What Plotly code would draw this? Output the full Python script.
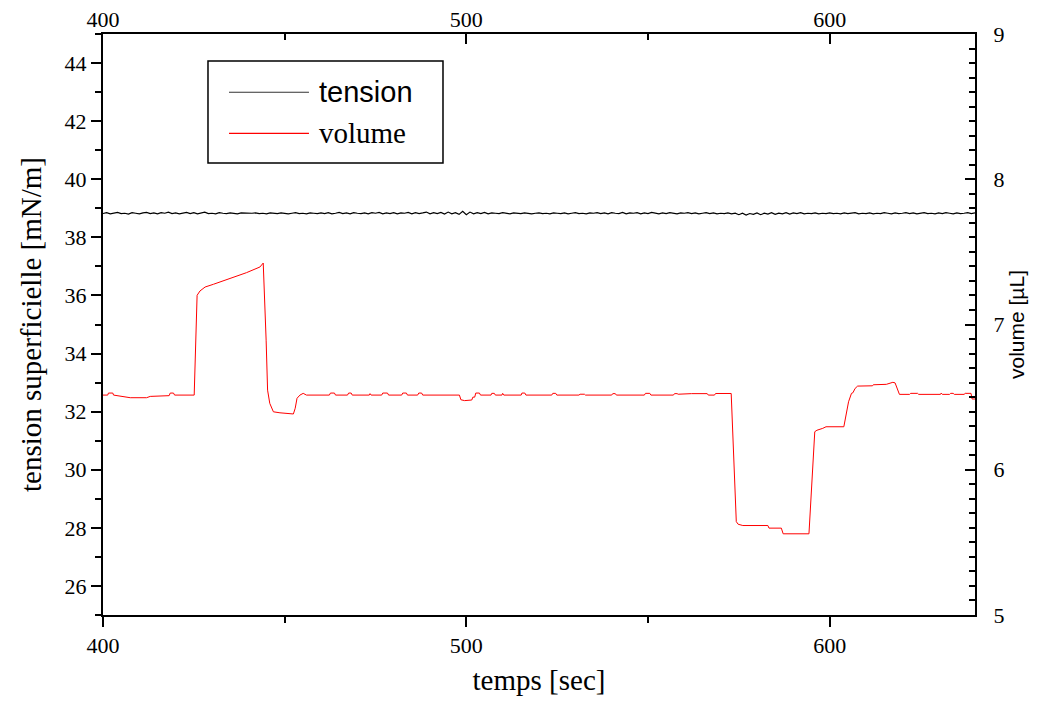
import plotly.graph_objects as go

# ---- data ----
tension_time = list(range(400, 641))
tension_values = [
    38.82, 38.85, 38.81, 38.84, 38.86, 38.82, 38.83, 38.80, 38.85, 38.83, 38.81, 38.84, 38.86, 38.82, 38.84, 38.81, 38.85, 38.83, 38.87, 38.82,
    38.84, 38.81, 38.83, 38.86, 38.82, 38.85, 38.81, 38.84, 38.87, 38.82, 38.83, 38.81, 38.85, 38.83, 38.82, 38.84, 38.83, 38.81, 38.84, 38.83,
    38.82, 38.83, 38.84, 38.82, 38.83, 38.81, 38.84, 38.83, 38.82, 38.84, 38.83, 38.81, 38.83, 38.85, 38.82, 38.83, 38.81, 38.84, 38.83, 38.82,
    38.84, 38.82, 38.85, 38.81, 38.83, 38.86, 38.82, 38.84, 38.81, 38.85, 38.83, 38.82, 38.84, 38.81, 38.85, 38.83, 38.86, 38.81, 38.84, 38.82,
    38.85, 38.81, 38.84, 38.83, 38.86, 38.81, 38.85, 38.82, 38.84, 38.87, 38.81, 38.85, 38.82, 38.86, 38.80, 38.87, 38.81, 38.85, 38.79, 38.90,
    38.78, 38.87, 38.81, 38.85, 38.82, 38.86, 38.81, 38.84, 38.83, 38.82, 38.85, 38.83, 38.81, 38.84, 38.83, 38.82, 38.84, 38.83, 38.81, 38.83,
    38.84, 38.82, 38.83, 38.81, 38.84, 38.83, 38.82, 38.84, 38.81, 38.83, 38.85, 38.82, 38.83, 38.81, 38.84, 38.83, 38.85, 38.82, 38.84, 38.81,
    38.85, 38.83, 38.82, 38.86, 38.81, 38.84, 38.83, 38.85, 38.81, 38.84, 38.82, 38.86, 38.83, 38.81, 38.84, 38.82, 38.85, 38.83, 38.81, 38.84,
    38.83, 38.85, 38.82, 38.84, 38.81, 38.83, 38.85, 38.82, 38.84, 38.81, 38.83, 38.82, 38.84, 38.81, 38.83, 38.78, 38.83, 38.77, 38.82, 38.79,
    38.84, 38.78, 38.83, 38.80, 38.85, 38.79, 38.83, 38.81, 38.85, 38.80, 38.84, 38.82, 38.85, 38.81, 38.83, 38.82, 38.84, 38.81, 38.83, 38.82,
    38.84, 38.82, 38.83, 38.81, 38.84, 38.82, 38.83, 38.85, 38.81, 38.83, 38.82, 38.84, 38.81, 38.83, 38.82, 38.85, 38.83, 38.81, 38.84, 38.82,
    38.83, 38.85, 38.82, 38.84, 38.81, 38.83, 38.85, 38.82, 38.83, 38.81, 38.84, 38.82, 38.85, 38.83, 38.81, 38.84, 38.82, 38.83, 38.85, 38.82,
    38.84,
]

volume_time = [
    400.0, 401.3, 401.5, 402.7, 402.9, 405.5, 407.5, 412.0, 413.0, 418.2, 418.5, 419.4, 419.7, 425.1,
    425.9, 426.7, 428.1, 430.4, 434.9, 439.5, 443.2, 443.7, 444.1, 444.9, 445.3, 445.9, 446.9, 448.7,
    451.4, 452.4, 452.9, 453.4, 454.2, 455.1, 456.0, 462.3, 462.6, 463.7, 464.0, 467.3, 467.6, 468.3,
    468.6, 473.3, 473.5, 473.8, 476.7, 477.0, 478.3, 478.6, 482.2, 482.5, 483.5, 483.8, 486.6, 486.9,
    487.7, 488.0, 498.1, 498.5, 499.5, 501.5, 501.8, 502.3, 502.6, 503.6, 503.9, 506.8, 507.0, 507.7,
    508.0, 509.8, 510.0, 510.3, 515.1, 515.3, 516.1, 516.4, 523.5, 523.8, 524.6, 524.9, 531.0, 531.3,
    532.5, 532.8, 540.0, 540.3, 541.0, 541.3, 549.0, 549.3, 550.5, 550.8, 557.0, 557.3, 558.0, 558.3,
    562.0, 566.3, 566.6, 568.3, 568.6, 572.9, 574.3, 574.8, 576.1, 583.0, 583.3, 586.7, 587.2, 594.3,
    595.9, 596.5, 598.1, 599.0, 603.9, 604.6, 605.2, 606.0, 606.4, 607.0, 607.7, 611.8, 612.0, 615.6,
    617.4, 618.0, 618.4, 619.2, 622.0, 622.3, 624.2, 624.5, 630.5, 630.7, 631.0, 633.0, 633.3, 634.0,
    634.3, 637.0, 637.3, 638.9, 639.2, 640.0,
]
volume_values = [
    6.514, 6.514, 6.528, 6.528, 6.514, 6.505, 6.496, 6.496, 6.505, 6.510, 6.528, 6.528, 6.514, 6.514,
    7.201, 7.231, 7.258, 7.277, 7.316, 7.357, 7.396, 7.408, 7.423, 6.892, 6.548, 6.457, 6.399, 6.392,
    6.388, 6.384, 6.423, 6.492, 6.514, 6.526, 6.514, 6.514, 6.528, 6.528, 6.514, 6.514, 6.528, 6.528,
    6.514, 6.514, 6.524, 6.514, 6.514, 6.528, 6.528, 6.514, 6.514, 6.528, 6.528, 6.514, 6.514, 6.528,
    6.528, 6.514, 6.514, 6.482, 6.476, 6.480, 6.500, 6.500, 6.528, 6.528, 6.514, 6.514, 6.526, 6.526,
    6.514, 6.514, 6.526, 6.514, 6.514, 6.528, 6.528, 6.514, 6.514, 6.526, 6.526, 6.514, 6.514, 6.520,
    6.520, 6.514, 6.514, 6.524, 6.524, 6.514, 6.514, 6.526, 6.526, 6.514, 6.514, 6.524, 6.524, 6.520,
    6.524, 6.524, 6.514, 6.514, 6.525, 6.525, 5.643, 5.625, 5.616, 5.616, 5.598, 5.598, 5.559, 5.559,
    6.262, 6.272, 6.285, 6.296, 6.296, 6.388, 6.468, 6.526, 6.530, 6.560, 6.576, 6.578, 6.585, 6.588,
    6.602, 6.598, 6.575, 6.519, 6.519, 6.526, 6.526, 6.519, 6.519, 6.528, 6.519, 6.519, 6.526, 6.526,
    6.519, 6.519, 6.526, 6.526, 6.487, 6.487,
]

x_range = [400, 640]
tension_range = [25, 45]
volume_range = [5, 9]
series_names = ["tension", "volume"]
series_colors = ["#000000", "#ff0000"]

SERIF = "Liberation Serif, Times New Roman, serif"
SANS = "Liberation Sans, Arial, sans-serif"

fig = go.Figure()
fig.add_trace(go.Scatter(x=tension_time, y=tension_values, mode="lines",
                         line=dict(color=series_colors[0], width=1.2),
                         name=series_names[0], xaxis="x", yaxis="y", showlegend=False))
fig.add_trace(go.Scatter(x=volume_time, y=volume_values, mode="lines",
                         line=dict(color=series_colors[1], width=1),
                         name=series_names[1], xaxis="x2", yaxis="y2", showlegend=False))

axis_common = dict(showgrid=False, zeroline=False, showline=True, linecolor="black",
                   linewidth=2, tickcolor="black", tickwidth=2)

# The page body adds an 8px margin, so the figure is sized to fit the window exactly
fig.update_layout(
    width=1029, height=688,
    margin=dict(l=95, r=62, t=26, b=81, autoexpand=False),
    paper_bgcolor="white", plot_bgcolor="white",
    xaxis=dict(range=x_range, dtick=100, tick0=400, ticks="outside", ticklen=10,
               minor=dict(dtick=50, tick0=400, ticks="outside", ticklen=6, tickwidth=2, tickcolor="black"),
               tickfont=dict(family=SERIF, size=22, color="black"),
               title=dict(text="temps [sec]", font=dict(family=SERIF, size=29, color="black"), standoff=14),
               **axis_common),
    xaxis2=dict(range=x_range, dtick=100, tick0=400, overlaying="x", side="top", anchor="y2",
                ticks="inside", ticklen=10, ticklabelstandoff=-4,
                minor=dict(dtick=50, tick0=400, ticks="inside", ticklen=6, tickwidth=2, tickcolor="black"),
                tickfont=dict(family=SERIF, size=22, color="black"),
                **axis_common),
    yaxis=dict(range=tension_range, dtick=2, tick0=26, ticks="outside", ticklen=10,
               minor=dict(dtick=1, tick0=25, ticks="outside", ticklen=6, tickwidth=2, tickcolor="black"),
               tickfont=dict(family=SERIF, size=22, color="black"),
               title=dict(text="tension superficielle [mN/m]", font=dict(family=SERIF, size=29, color="black"), standoff=14),
               **axis_common),
    yaxis2=dict(range=volume_range, dtick=1, tick0=5, overlaying="y", side="right", anchor="x2",
                ticks="inside", ticklen=10,
                minor=dict(dtick=0.1, tick0=5, ticks="inside", ticklen=6, tickwidth=2, tickcolor="black"),
                tickfont=dict(family=SERIF, size=22, color="black"),
                ticklabelstandoff=12,
                title=dict(text="volume [µL]", font=dict(family=SANS, size=21, color="black"), standoff=6),
                **axis_common),
)

# ---- legend box (drawn manually to match the long line samples) ----
fig.add_shape(type="rect", xref="paper", yref="paper", x0=0.1204, x1=0.3899, y0=0.778, y1=0.9535,
              line=dict(color="black", width=1.5), fillcolor="white", layer="above")
legend_rows = [0.8997, 0.8291]
legend_fonts = [SANS, SERIF]
legend_line_colors = ["#333333", "#ff0000"]
for name, yrow, fam, col in zip(series_names, legend_rows, legend_fonts, legend_line_colors):
    fig.add_shape(type="line", xref="paper", yref="paper", x0=0.1445, x1=0.2362, y0=yrow, y1=yrow,
                  line=dict(color=col, width=1.2), layer="above")
    fig.add_annotation(xref="paper", yref="paper", x=0.2454, y=yrow, text=name, showarrow=False,
                       xanchor="left", yanchor="middle",
                       font=dict(family=fam, size=29, color="black"))

fig.write_html("out.html")
